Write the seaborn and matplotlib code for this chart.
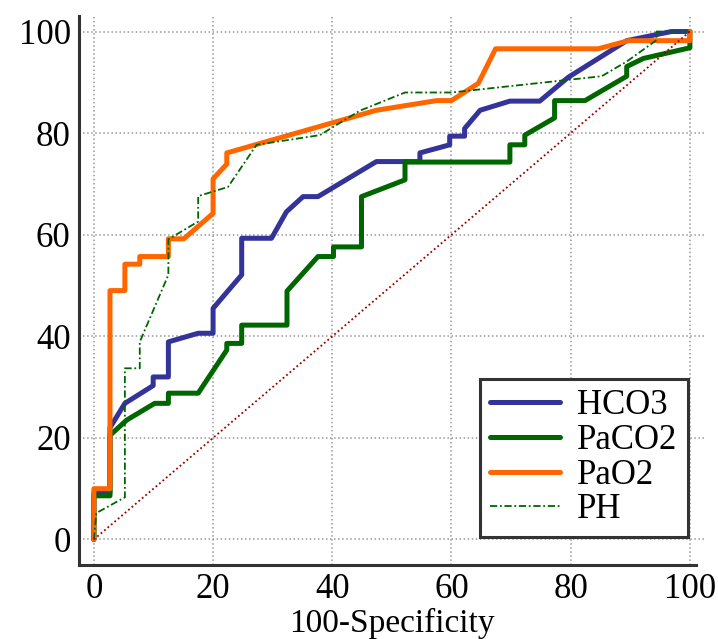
import numpy as np
import pandas as pd
import matplotlib
matplotlib.use('Agg')
import matplotlib.pyplot as plt
import seaborn as sns
from matplotlib.ticker import MultipleLocator

sns.set_theme(style="white")
plt.rcParams['font.family'] = ['Liberation Serif', 'DejaVu Serif']

# ROC curve points (100-Specificity, Sensitivity)
hco3_x = [0, 0, 2.7, 2.7, 5.2, 9.95, 9.95, 12.5, 12.5, 17.5, 20, 20, 24.8, 24.8, 29.8, 32.3, 35.1,
          37.6, 47.4, 54.7, 54.7, 59.7, 59.7, 62.2, 62.2, 64.8, 69.8, 74.8, 79.6, 89.4, 96.9, 100]
hco3_y = [0, 9.2, 9.2, 22.0, 26.8, 30.3, 32.0, 32.0, 38.9, 40.6, 40.6, 45.5, 52.1, 59.3, 59.3, 64.5, 67.5,
          67.5, 74.4, 74.4, 76.1, 77.7, 79.4, 79.4, 80.9, 84.5, 86.3, 86.3, 91.0, 98.2, 100, 100]

paco2_x = [0, 0, 2.7, 2.7, 5.5, 10.2, 12.5, 12.5, 17.5, 22.3, 22.3, 24.8, 24.8, 32.4, 32.4, 37.6, 40.2,
           40.2, 44.9, 44.9, 52.2, 52.2, 69.8, 69.8, 72.3, 72.3, 77.3, 77.3, 82.4, 89.4, 89.4, 92.2,
           100, 100]
paco2_y = [0, 8.6, 8.6, 20.5, 23.5, 26.8, 26.8, 28.8, 28.8, 37.3, 38.6, 38.6, 42.2, 42.2, 48.9, 55.7, 55.7,
           57.6, 57.6, 67.5, 70.8, 74.3, 74.3, 77.7, 77.7, 79.6, 83.0, 86.4, 86.4, 91.2, 93.1, 94.7,
           96.8, 100]

pao2_x = [0, 0, 2.7, 2.7, 5.2, 5.2, 7.7, 7.7, 12.5, 12.5, 15.1, 20, 20, 22.3, 22.3, 47.4, 57.5, 60,
          64.5, 67.4, 84.6, 89.7, 100, 100]
pao2_y = [0, 10, 10, 49, 49, 54.2, 54.2, 55.7, 55.7, 59.2, 59.2, 64.2, 71.0, 73.9, 76.1, 84.5, 86.4, 86.4,
          89.8, 96.6, 96.6, 98.2, 98.2, 100]

ph_x = [0, 0.4, 5.2, 5.2, 7.7, 7.7, 12.5, 12.5, 17.5, 17.5, 22.5, 27.3, 37.9, 44.6, 52.2, 60, 85.2,
        89.4, 94.4, 94.4, 100]
ph_y = [0, 5.2, 8.3, 33.7, 33.7, 38.9, 52.1, 59.1, 62.6, 67.6, 69.4, 77.7, 79.6, 84.4, 88.0, 88.0, 91.2,
        94.1, 98.3, 100, 100]

ref_x = [0, 100]
ref_y = [0, 100]

series = [
    ('HCO3', hco3_x, hco3_y, '#333399', 3.6, '-'),
    ('PaCO2', paco2_x, paco2_y, '#006600', 3.6, '-'),
    ('PaO2', pao2_x, pao2_y, '#FF6600', 3.6, '-'),
    ('PH', ph_x, ph_y, '#006600', 1.3, (0, (4, 1.5, 1, 1.5))),
]

fig = plt.figure(figsize=(7.18, 6.39), dpi=100)
ax = fig.add_axes([0.110, 0.116, 0.8716, 0.8585])

handles = []
for name, xs, ys, color, lw, ls in series:
    df = pd.DataFrame({'fpr': xs, 'tpr': ys})
    sns.lineplot(data=df, x='fpr', y='tpr', ax=ax, estimator=None, sort=False,
                 color=color, linewidth=lw, linestyle=ls)
    handles.append(ax.lines[-1])

ref_df = pd.DataFrame({'fpr': ref_x, 'tpr': ref_y})
sns.lineplot(data=ref_df, x='fpr', y='tpr', ax=ax, estimator=None, sort=False,
             color='#990000', linewidth=1.3, linestyle=(0, (1, 1.5)), zorder=5)

ax.set_xlim(-2.5, 102.5)
ax.set_ylim(-5, 103)
ax.xaxis.set_major_locator(MultipleLocator(20))
ax.yaxis.set_major_locator(MultipleLocator(20))
ax.xaxis.set_minor_locator(MultipleLocator(5))
ax.yaxis.set_minor_locator(MultipleLocator(5))

ax.grid(True, which='major', color='#999999', linestyle=':', linewidth=1.1)
ax.tick_params(which='major', direction='in', length=11, width=2.2, color='#333333',
               labelsize=25, pad=6, labelcolor='black')
ax.tick_params(which='minor', direction='in', length=5, width=1.2, color='#333333')

for side in ['top', 'right']:
    ax.spines[side].set_visible(False)
for side in ['left', 'bottom']:
    ax.spines[side].set_color('#333333')
    ax.spines[side].set_linewidth(2.2)
ax.spines['bottom'].set_bounds(-2.5, 101)

ax.set_xlabel('100-Specificity', fontsize=24, labelpad=1.5, color='black')
ax.set_ylabel('')

leg = ax.legend(handles, [s[0] for s in series], loc='lower right',
                bbox_to_anchor=(0.973, 0.051), borderaxespad=0, fontsize=25,
                fancybox=False, framealpha=1, edgecolor='#333333',
                handlelength=2.0, handletextpad=0.5, labelspacing=0.05, borderpad=0.3)
leg.get_frame().set_linewidth(2.2)
for t in leg.get_texts():
    t.set_color('black')

fig.savefig('out.png', dpi=100)
